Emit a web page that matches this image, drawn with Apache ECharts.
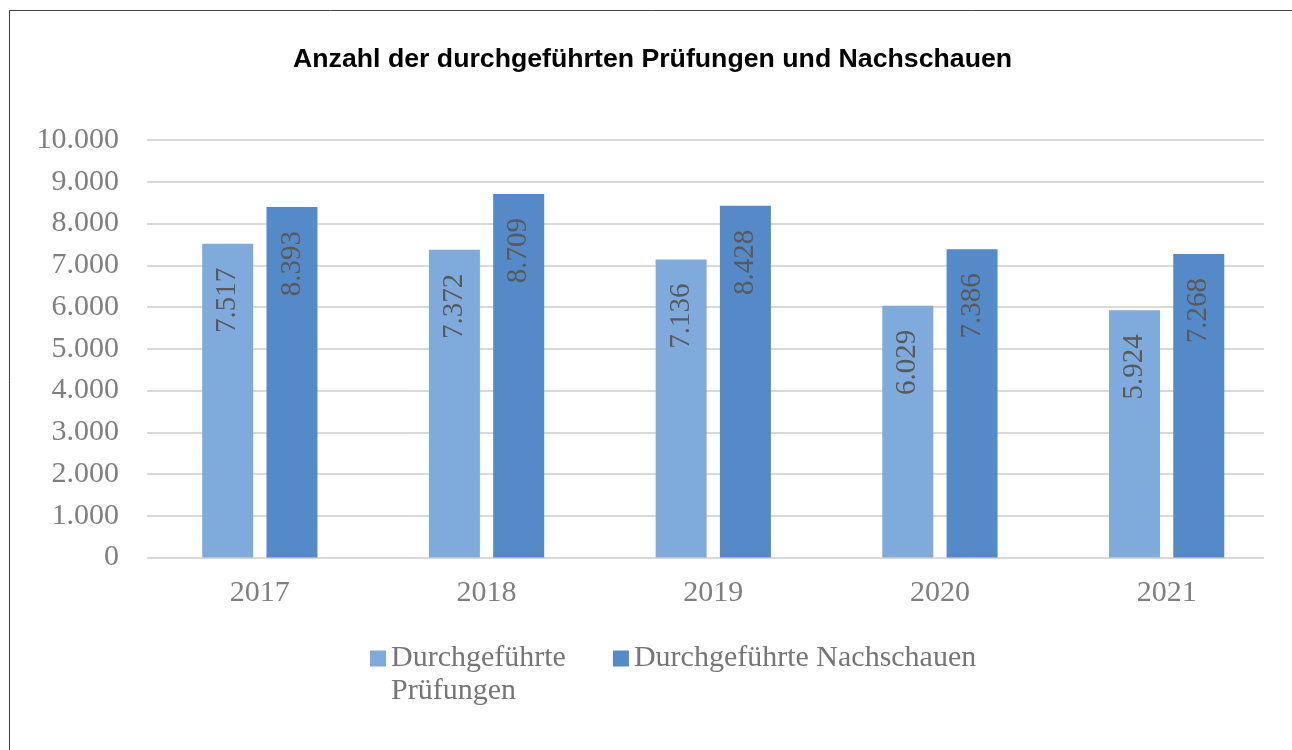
<!DOCTYPE html>
<head>
    <meta charset="utf-8">
    <title>ECharts</title>
    <script type="text/javascript" src="https://cdn.jsdelivr.net/npm/echarts@6/dist/echarts.min.js"></script>
</head>
<body style="margin:0">
<div id="main" style="width:1292px;height:750px"></div>
<script type="text/javascript">
    // Daten aus dem Diagramm
    var jahre = ['2017', '2018', '2019', '2020', '2021'];
    var pruefungen = [7517, 7372, 7136, 6029, 5924];
    var nachschauen = [8393, 8709, 8428, 7386, 7268];

    var serif = '"Liberation Serif", "Times New Roman", serif';

    // deutsches Tausendertrennzeichen
    function fmt(v) {
        return String(v).replace(/\B(?=(\d{3})+(?!\d))/g, '.');
    }

    var myChart = echarts.init(document.getElementById('main'));
    var barLabel = {
        show: true,
        position: 'insideTop',
        rotate: 90,
        align: 'right',
        verticalAlign: 'middle',
        distance: 24,
        fontFamily: serif,
        fontSize: 29,
        color: '#595959',
        formatter: function (p) { return fmt(p.value); }
    };
    var option = {
        animation: false,
        backgroundColor: '#fff',
        title: {
            text: 'Anzahl der durchgeführten Prüfungen und Nachschauen',
            left: 288,
            top: 41,
            textStyle: {
                fontFamily: '"Liberation Sans", Arial, sans-serif',
                fontWeight: 'bold',
                fontSize: 26.7,
                color: '#000'
            }
        },
        legend: {
            left: 370,
            top: 609,
            padding: 0,
            itemWidth: 16,
            itemHeight: 16,
            itemGap: 47,
            icon: 'rect',
            textStyle: {fontFamily: serif, fontSize: 30, color: '#767676', lineHeight: 33},
            formatter: function (name) {
                // erste Zeile auf Höhe des Symbols, zweite darunter
                return name === 'Durchgeführte Prüfungen' ? '\u00a0\nDurchgeführte\nPrüfungen' : name;
            },
            data: ['Durchgeführte Prüfungen', 'Durchgeführte Nachschauen']
        },
        grid: [
            {left: 147, right: 28, top: 140, bottom: 192.5},
            {left: 146.5, right: 12, top: 140, bottom: 192.5}
        ],
        xAxis: [
            {type: 'category', gridIndex: 0, data: jahre, show: false},
            {
                type: 'category',
                gridIndex: 1,
                data: jahre,
                axisTick: {show: false},
                axisLine: {show: false},
                axisLabel: {fontFamily: serif, fontSize: 30, color: '#7f7f7f', margin: 21}
            }
        ],
        yAxis: [
            {
                type: 'value',
                gridIndex: 0,
                min: 0,
                max: 10000,
                interval: 1000,
                axisLine: {show: false},
                axisTick: {show: false},
                splitLine: {lineStyle: {color: '#d9d9d9', width: 2}},
                axisLabel: {
                    fontFamily: serif, fontSize: 30, color: '#7f7f7f', margin: 28,
                    formatter: function (v) { return fmt(v); }
                }
            },
            {type: 'value', gridIndex: 1, min: 0, max: 10000, interval: 1000, show: false, splitLine: {show: false}}
        ],
        graphic: [{
            type: 'rect',
            shape: {x: 9.5, y: 10.5, width: 1400, height: 900},
            style: {fill: null, stroke: '#404040', lineWidth: 1},
            silent: true
        }],
        series: [
            {
                name: 'Durchgeführte Prüfungen',
                type: 'bar',
                xAxisIndex: 1,
                yAxisIndex: 1,
                data: pruefungen,
                barWidth: 51,
                barGap: '26%',
                itemStyle: {color: '#7eabdc'},
                label: barLabel
            },
            {
                name: 'Durchgeführte Nachschauen',
                type: 'bar',
                xAxisIndex: 1,
                yAxisIndex: 1,
                data: nachschauen,
                barWidth: 51,
                itemStyle: {color: '#548ac8'},
                label: barLabel
            }
        ]
    };
    myChart.setOption(option);
</script>
</body>
